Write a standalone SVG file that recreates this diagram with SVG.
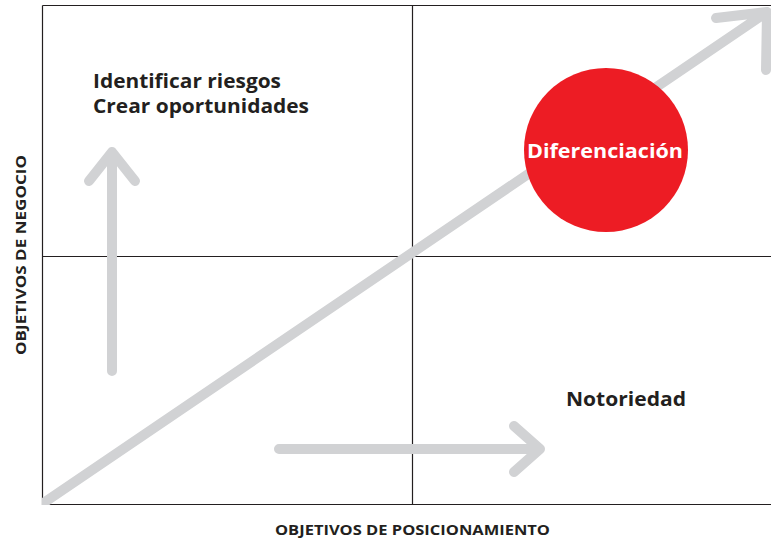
<svg xmlns="http://www.w3.org/2000/svg" width="771" height="541" viewBox="0 0 771 541">
<style>
.ax{stroke:#231f20;stroke-width:1.2;fill:none}
.arr{stroke:#d1d2d4;stroke-width:10;fill:none;stroke-linecap:round;stroke-linejoin:round}
.lbl{font-family:"Open Sans",Lato,sans-serif;font-weight:bold;fill:#231f20}
</style>
<defs>
<clipPath id="frame"><rect x="42" y="0" width="729" height="505"/></clipPath>
</defs>
<rect width="771" height="541" fill="#fff"/>
<g id="axes">
<path class="ax" d="M42.5 5.5H771M42.5 5.5V504.5H771M412.5 5.5V504.5M42.5 256.5H771"/>
</g>
<g id="connectors">
<path class="arr" clip-path="url(#frame)" d="M36 508L767 12M716 18L767 12L766 70"/>
<path class="arr" d="M112 371V152M89 181L112 152L135 181"/>
<path class="arr" d="M279 449H540M514 426L540 449L514 472"/>
</g>
<g id="diferenciacion">
<circle cx="606" cy="150" r="82" fill="#ed1c24"/>
<text class="lbl" x="527" y="158" font-size="20" textLength="156" lengthAdjust="spacingAndGlyphs" style="fill:#fff">Diferenciación</text>
</g>
<g id="identificar">
<text class="lbl" x="93" y="88" font-size="20" textLength="188" lengthAdjust="spacingAndGlyphs">Identificar riesgos</text>
<text class="lbl" x="93" y="113" font-size="20" textLength="216" lengthAdjust="spacingAndGlyphs">Crear oportunidades</text>
</g>
<g id="notoriedad">
<text class="lbl" x="566" y="406" font-size="20" textLength="120" lengthAdjust="spacingAndGlyphs">Notoriedad</text>
</g>
<g id="axis-labels">
<text class="lbl" x="275" y="535" font-size="14.5" textLength="275" lengthAdjust="spacingAndGlyphs">OBJETIVOS DE POSICIONAMIENTO</text>
<text class="lbl" transform="translate(26 355) rotate(-90)" font-size="14.5" textLength="200" lengthAdjust="spacingAndGlyphs">OBJETIVOS DE NEGOCIO</text>
</g>
</svg>
